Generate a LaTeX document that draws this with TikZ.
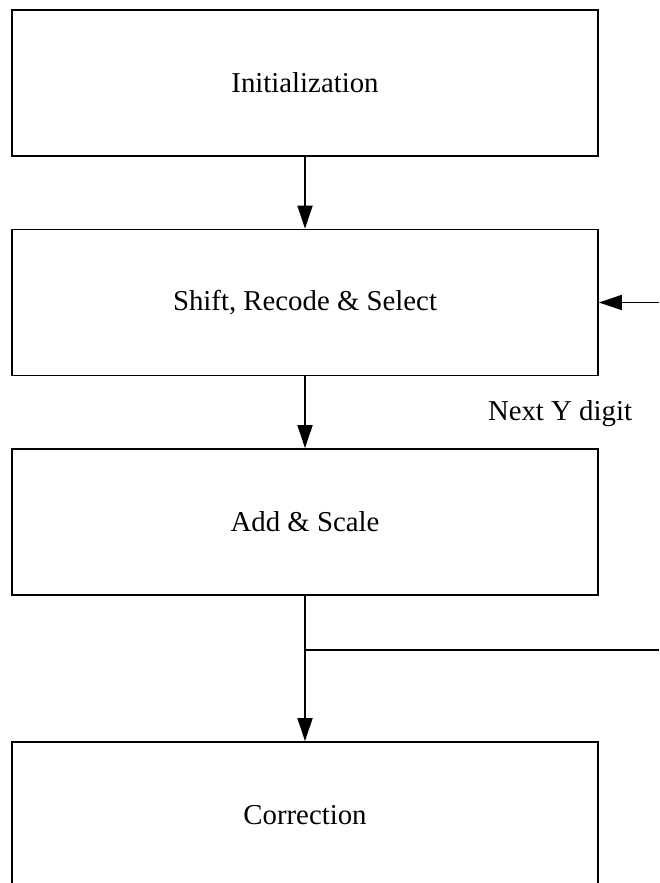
\documentclass[tikz,border=0pt]{standalone}
\usepackage{fontspec}
\setmainfont{Liberation Serif}
\usetikzlibrary{arrows.meta}
\tikzset{
  stage/.style={draw=black, line width=1.8pt, minimum width=586pt, minimum height=146pt,
    inner sep=0pt, font=\fontsize{28.8}{34}\selectfont},
  flow/.style={line width=1.8pt, -{Triangle[length=23pt,width=15pt]}},
  plain/.style={line width=1.8pt},
  lbl/.style={font=\fontsize{28.8}{34}\selectfont, inner sep=0pt}
}
\begin{document}
\begin{tikzpicture}[x=1pt,y=-1pt]
  \useasboundingbox (0,0) rectangle (659,883);
  \node[stage] (init) at (305,83) {Initialization};
  \node[stage] (shift) at (305,302.5) {Shift, Recode \& Select};
  \node[stage] (add) at (305,522) {Add \& Scale};
  \node[stage] (corr) at (305,815) {Correction};
  \node[lbl] (next) at (560,414) {Next Y digit};
  \coordinate (loopin) at (659,302.5);
  \coordinate (split) at (305,650);
  \coordinate (loopout) at (659,650);
  \draw[flow] (init) -- (shift);
  \draw[flow] (shift) -- (add);
  \draw[flow] (add) -- (corr);
  \draw[plain] (split) -- (loopout);
  \draw[flow] (loopin) -- (shift.east);
\end{tikzpicture}
\end{document}
